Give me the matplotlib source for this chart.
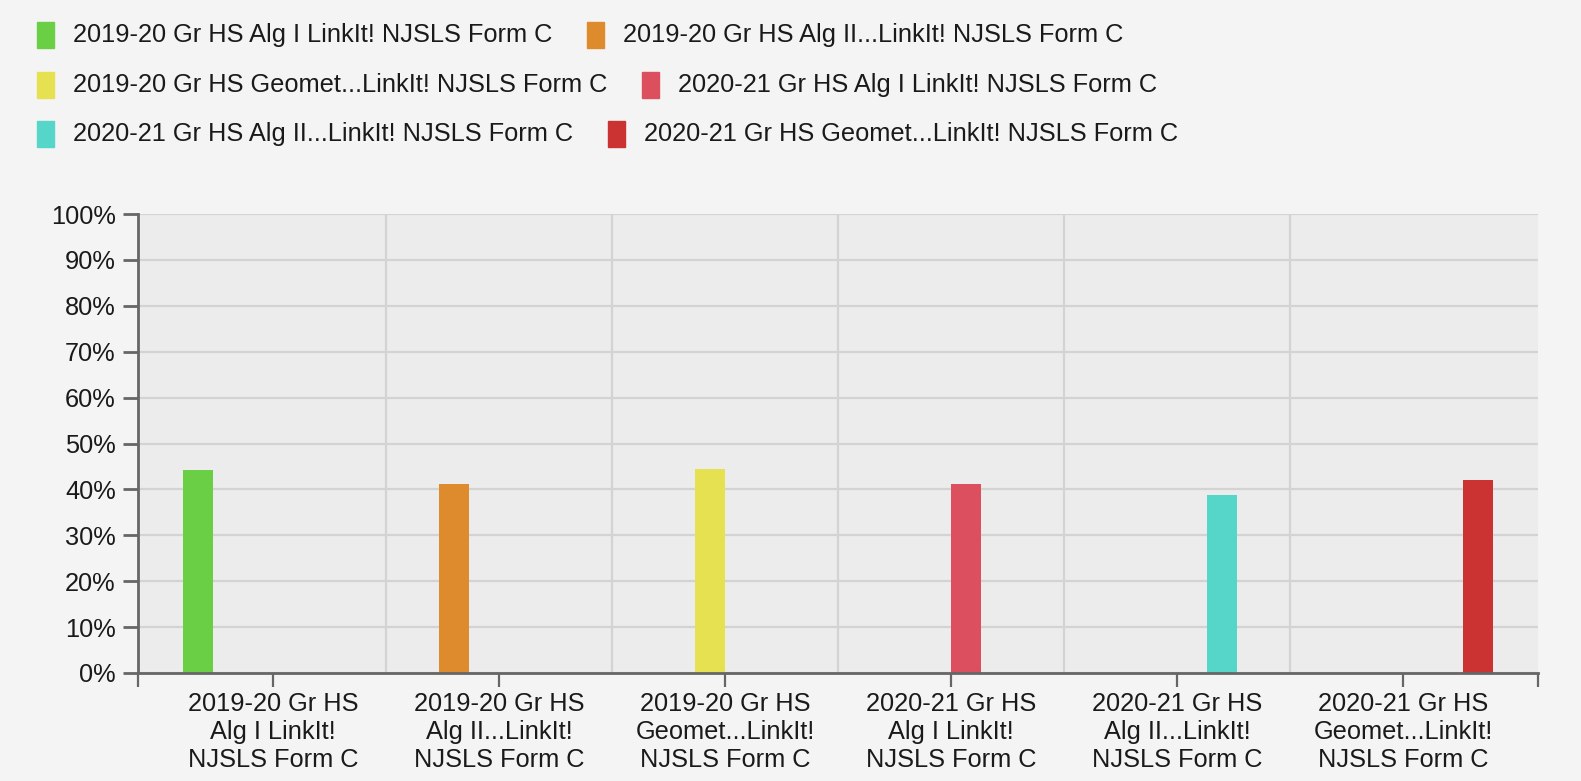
import matplotlib
matplotlib.use("Agg")
import matplotlib.pyplot as plt
from matplotlib.patches import Rectangle
import numpy as np

# ---- data ----
categories = [
    "2019-20 Gr HS\nAlg I LinkIt!\nNJSLS Form C",
    "2019-20 Gr HS\nAlg II...LinkIt!\nNJSLS Form C",
    "2019-20 Gr HS\nGeomet...LinkIt!\nNJSLS Form C",
    "2020-21 Gr HS\nAlg I LinkIt!\nNJSLS Form C",
    "2020-21 Gr HS\nAlg II...LinkIt!\nNJSLS Form C",
    "2020-21 Gr HS\nGeomet...LinkIt!\nNJSLS Form C",
]
series_names = [
    "2019-20 Gr HS Alg I LinkIt! NJSLS Form C",
    "2019-20 Gr HS Alg II...LinkIt! NJSLS Form C",
    "2019-20 Gr HS Geomet...LinkIt! NJSLS Form C",
    "2020-21 Gr HS Alg I LinkIt! NJSLS Form C",
    "2020-21 Gr HS Alg II...LinkIt! NJSLS Form C",
    "2020-21 Gr HS Geomet...LinkIt! NJSLS Form C",
]
alg1_1920 = [44.3, 0, 0, 0, 0, 0]
alg2_1920 = [0, 41.2, 0, 0, 0, 0]
geom_1920 = [0, 0, 44.5, 0, 0, 0]
alg1_2021 = [0, 0, 0, 41.2, 0, 0]
alg2_2021 = [0, 0, 0, 0, 38.7, 0]
geom_2021 = [0, 0, 0, 0, 0, 42.1]
series_values = [alg1_1920, alg2_1920, geom_1920, alg1_2021, alg2_2021, geom_2021]
colors = ["#6bcf45", "#dd8b2d", "#e5e150", "#dc4f5e", "#56d6c8", "#cb3232"]
yticks = [0, 10, 20, 30, 40, 50, 60, 70, 80, 90, 100]
ytick_labels = [f"{v}%" for v in yticks]

# ---- figure ----
W, H = 1581, 781
DPI = 100
plt.rcParams["font.family"] = ["Liberation Sans", "DejaVu Sans"]
FS = 18.3
TXT = "#1a1a1a"

fig = plt.figure(figsize=(W / DPI, H / DPI), dpi=DPI, facecolor="#f4f4f4")
ax_l, ax_r, ax_t, ax_b = 138, 1538, 214, 673
ax = fig.add_axes([ax_l / W, 1 - ax_b / H, (ax_r - ax_l) / W, (ax_b - ax_t) / H])
ax.set_facecolor("#ececec")

n = len(series_values)
x = np.arange(len(categories))
group_w = 0.8
bw = group_w / n
for j, vals in enumerate(series_values):
    ax.bar(x + (j - (n - 1) / 2) * bw, vals, width=bw, color=colors[j], zorder=3)

xl = (-0.597, len(categories) - 1 + 0.597)
ax.set_xlim(*xl)
ax.set_ylim(0, 100)

# grid
for yv in yticks:
    ax.axhline(yv, color="#d3d3d3", lw=1.6, zorder=1)
for b in x[:-1] + 0.5:
    ax.axvline(b, color="#d3d3d3", lw=1.6, zorder=1)

for s in ["top", "right"]:
    ax.spines[s].set_visible(False)
for s in ["left", "bottom"]:
    ax.spines[s].set_color("#666666")
    ax.spines[s].set_linewidth(2)
    ax.spines[s].set_zorder(4)

ax.set_yticks(yticks)
ax.set_yticklabels(ytick_labels, fontsize=FS, color=TXT)
ax.tick_params(axis="y", length=11, width=2, color="#666666", pad=5)

ax.set_xticks(x)
ax.set_xticklabels(categories, fontsize=FS, color=TXT, linespacing=1.2)
ax.set_xticks(list(xl), minor=True)
ax.tick_params(axis="x", which="both", length=10, width=1.6, color="#666666", pad=4)

# ---- legend (flow layout) ----
renderer = fig.canvas.get_renderer()
rows = [[0, 1], [2, 3], [4, 5]]
row_y = [35, 85, 134]
mk_w, mk_h = 17, 26
for r, idxs in enumerate(rows):
    cx = 37
    for i in idxs:
        yc = row_y[r]
        fig.patches.append(Rectangle(((cx) / W, 1 - (yc + mk_h / 2) / H), mk_w / W, mk_h / H,
                                     transform=fig.transFigure, color=colors[i]))
        t = fig.text((cx + 36) / W, 1 - yc / H, series_names[i], fontsize=FS, color=TXT,
                     va="center", ha="left")
        ext = t.get_window_extent(renderer)
        cx = ext.x1 + 35

fig.savefig("out.png", dpi=DPI, facecolor=fig.get_facecolor())
